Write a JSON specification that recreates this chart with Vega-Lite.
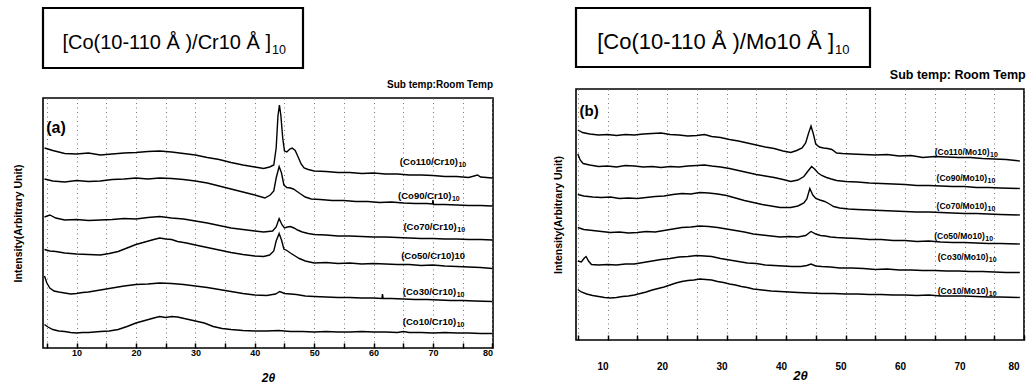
{
  "$schema": "https://vega.github.io/schema/vega-lite/v6.json",
  "background": "white",
  "padding": {"left": 12, "top": 6, "right": 2, "bottom": 2},
  "config": {
    "font": "Liberation Sans",
    "view": {"stroke": "black", "strokeWidth": 1.6},
    "axis": {"labelFont": "Liberation Sans", "titleFont": "Liberation Sans", "labelColor": "black", "titleColor": "black"},
    "title": {"font": "Liberation Sans", "color": "black"},
    "text": {"font": "Liberation Sans", "color": "black"}
  },
  "bounds": "full",
  "spacing": 58,
  "hconcat": [
    {
      "bounds": "flush",
      "spacing": 30,
      "vconcat": [
        {
          "width": 260,
          "height": 60,
          "view": {"stroke": "black", "strokeWidth": 2.2},
          "data": {"values": [{"main": "[Co(10-110 Å )/Cr10 Å ]", "sub": "10"}]},
          "layer": [
            {"mark": {"type": "text", "fontSize": 20, "align": "right", "dx": 98, "dy": 5}, "encoding": {"text": {"field": "main"}}},
            {"mark": {"type": "text", "fontSize": 12.5, "align": "left", "dx": 99, "dy": 12}, "encoding": {"text": {"field": "sub"}}}
          ]
        },
        {
          "width": 450,
          "height": 250,
          "title": {"text": "Sub temp:Room Temp", "anchor": "end", "fontSize": 10, "fontWeight": "bold", "offset": 8},
          "resolve": {"axis": {"x": "independent", "y": "independent"}},
          "layer": [
            {
              "data": {"values": [
{"s":"Co110","x":4.6,"y":200},{"s":"Co110","x":6,"y":197.5},{"s":"Co110","x":8,"y":194.5},{"s":"Co110","x":10,"y":194},{"s":"Co110","x":12,"y":195},{"s":"Co110","x":14,"y":193},{"s":"Co110","x":16,"y":194},{"s":"Co110","x":18,"y":195},{"s":"Co110","x":20,"y":195.5},{"s":"Co110","x":22,"y":196.5},{"s":"Co110","x":24,"y":197},{"s":"Co110","x":26,"y":196},{"s":"Co110","x":28,"y":194.5},{"s":"Co110","x":30,"y":193},{"s":"Co110","x":32,"y":190.5},{"s":"Co110","x":34,"y":188.5},{"s":"Co110","x":36,"y":185.5},{"s":"Co110","x":38,"y":183},{"s":"Co110","x":40,"y":181},{"s":"Co110","x":41.5,"y":179.5},{"s":"Co110","x":42.5,"y":181},{"s":"Co110","x":43.2,"y":183},{"s":"Co110","x":43.6,"y":200},{"s":"Co110","x":43.9,"y":232},{"s":"Co110","x":44.15,"y":243},{"s":"Co110","x":44.4,"y":232},{"s":"Co110","x":44.7,"y":210},{"s":"Co110","x":45,"y":197},{"s":"Co110","x":45.4,"y":196},{"s":"Co110","x":45.9,"y":199},{"s":"Co110","x":46.3,"y":200},{"s":"Co110","x":46.8,"y":197.5},{"s":"Co110","x":47.3,"y":191},{"s":"Co110","x":47.8,"y":184},{"s":"Co110","x":48.3,"y":180},{"s":"Co110","x":49,"y":178.5},{"s":"Co110","x":50,"y":177},{"s":"Co110","x":52,"y":176.5},{"s":"Co110","x":54,"y":175.5},{"s":"Co110","x":56,"y":175.5},{"s":"Co110","x":58,"y":174.5},{"s":"Co110","x":60,"y":175},{"s":"Co110","x":62,"y":174},{"s":"Co110","x":64,"y":174},{"s":"Co110","x":66,"y":173},{"s":"Co110","x":68,"y":173},{"s":"Co110","x":70,"y":172.5},{"s":"Co110","x":72,"y":171.5},{"s":"Co110","x":74,"y":171.5},{"s":"Co110","x":76,"y":170.5},{"s":"Co110","x":77.5,"y":173},{"s":"Co110","x":78,"y":171},{"s":"Co110","x":80,"y":170},
{"s":"Co90","x":4.6,"y":169},{"s":"Co90","x":6,"y":167},{"s":"Co90","x":8,"y":166},{"s":"Co90","x":10,"y":167.5},{"s":"Co90","x":12,"y":166.5},{"s":"Co90","x":14,"y":167},{"s":"Co90","x":16,"y":168.5},{"s":"Co90","x":18,"y":169},{"s":"Co90","x":20,"y":170},{"s":"Co90","x":22,"y":169},{"s":"Co90","x":24,"y":170},{"s":"Co90","x":26,"y":169.5},{"s":"Co90","x":28,"y":168.5},{"s":"Co90","x":30,"y":167},{"s":"Co90","x":32,"y":165},{"s":"Co90","x":34,"y":162},{"s":"Co90","x":36,"y":159},{"s":"Co90","x":38,"y":156},{"s":"Co90","x":40,"y":153},{"s":"Co90","x":41.7,"y":150},{"s":"Co90","x":42.6,"y":153},{"s":"Co90","x":43.2,"y":157},{"s":"Co90","x":43.6,"y":170},{"s":"Co90","x":44.1,"y":181.5},{"s":"Co90","x":44.5,"y":175},{"s":"Co90","x":44.9,"y":163},{"s":"Co90","x":45.4,"y":160.5},{"s":"Co90","x":46,"y":160},{"s":"Co90","x":46.5,"y":159},{"s":"Co90","x":47,"y":157},{"s":"Co90","x":47.6,"y":154.5},{"s":"Co90","x":48.5,"y":151},{"s":"Co90","x":49.5,"y":149},{"s":"Co90","x":51,"y":148.5},{"s":"Co90","x":53,"y":147.5},{"s":"Co90","x":55,"y":147.5},{"s":"Co90","x":57,"y":146.5},{"s":"Co90","x":59,"y":146.5},{"s":"Co90","x":61,"y":145.5},{"s":"Co90","x":63,"y":146},{"s":"Co90","x":65,"y":145},{"s":"Co90","x":67,"y":144.5},{"s":"Co90","x":69,"y":144.5},{"s":"Co90","x":69.9,"y":144},{"s":"Co90","x":70,"y":148},{"s":"Co90","x":70.1,"y":143.5},{"s":"Co90","x":72,"y":143.5},{"s":"Co90","x":74,"y":143},{"s":"Co90","x":76,"y":142.5},{"s":"Co90","x":78,"y":142.5},{"s":"Co90","x":80,"y":142},
{"s":"Co70","x":4.6,"y":131},{"s":"Co70","x":5.5,"y":133},{"s":"Co70","x":6.5,"y":130},{"s":"Co70","x":8,"y":128},{"s":"Co70","x":10,"y":128.5},{"s":"Co70","x":12,"y":127.5},{"s":"Co70","x":14,"y":128},{"s":"Co70","x":16,"y":128.5},{"s":"Co70","x":18,"y":129.5},{"s":"Co70","x":20,"y":129},{"s":"Co70","x":22,"y":130.5},{"s":"Co70","x":24,"y":131.5},{"s":"Co70","x":26,"y":130},{"s":"Co70","x":28,"y":129},{"s":"Co70","x":30,"y":127},{"s":"Co70","x":32,"y":125},{"s":"Co70","x":34,"y":122.5},{"s":"Co70","x":36,"y":120},{"s":"Co70","x":38,"y":118.5},{"s":"Co70","x":40,"y":117},{"s":"Co70","x":41.5,"y":116},{"s":"Co70","x":43,"y":117},{"s":"Co70","x":43.6,"y":121},{"s":"Co70","x":44.1,"y":129.5},{"s":"Co70","x":44.6,"y":123},{"s":"Co70","x":45,"y":120},{"s":"Co70","x":45.5,"y":121},{"s":"Co70","x":46,"y":121.5},{"s":"Co70","x":46.6,"y":120},{"s":"Co70","x":47.2,"y":118},{"s":"Co70","x":48,"y":116},{"s":"Co70","x":49,"y":114.5},{"s":"Co70","x":50,"y":113.5},{"s":"Co70","x":52,"y":113},{"s":"Co70","x":54,"y":112},{"s":"Co70","x":56,"y":112},{"s":"Co70","x":58,"y":111.5},{"s":"Co70","x":60,"y":111},{"s":"Co70","x":62,"y":111},{"s":"Co70","x":64,"y":110.5},{"s":"Co70","x":66,"y":110},{"s":"Co70","x":68,"y":109.5},{"s":"Co70","x":70,"y":109.5},{"s":"Co70","x":72,"y":109},{"s":"Co70","x":74,"y":109},{"s":"Co70","x":76,"y":108.5},{"s":"Co70","x":78,"y":108.5},{"s":"Co70","x":80,"y":108},
{"s":"Co50","x":4.6,"y":98.5},{"s":"Co50","x":5.5,"y":97},{"s":"Co50","x":6.5,"y":96.5},{"s":"Co50","x":8,"y":95},{"s":"Co50","x":10,"y":94},{"s":"Co50","x":12,"y":93.5},{"s":"Co50","x":14,"y":93},{"s":"Co50","x":15.5,"y":94.5},{"s":"Co50","x":17,"y":96.5},{"s":"Co50","x":18.5,"y":100},{"s":"Co50","x":20,"y":103.5},{"s":"Co50","x":21.5,"y":106},{"s":"Co50","x":23,"y":108.5},{"s":"Co50","x":24,"y":110},{"s":"Co50","x":25,"y":109},{"s":"Co50","x":26,"y":108.5},{"s":"Co50","x":27,"y":106.5},{"s":"Co50","x":28.5,"y":105},{"s":"Co50","x":30,"y":103},{"s":"Co50","x":32,"y":100.5},{"s":"Co50","x":34,"y":98},{"s":"Co50","x":36,"y":95.5},{"s":"Co50","x":38,"y":93.5},{"s":"Co50","x":40,"y":92},{"s":"Co50","x":41.5,"y":91.5},{"s":"Co50","x":42.5,"y":93},{"s":"Co50","x":43.2,"y":97},{"s":"Co50","x":43.6,"y":107},{"s":"Co50","x":44.1,"y":114.5},{"s":"Co50","x":44.5,"y":108},{"s":"Co50","x":44.9,"y":99},{"s":"Co50","x":45.4,"y":97.5},{"s":"Co50","x":46,"y":95},{"s":"Co50","x":46.8,"y":92},{"s":"Co50","x":47.5,"y":89.5},{"s":"Co50","x":48.5,"y":87},{"s":"Co50","x":50,"y":85},{"s":"Co50","x":52,"y":85.5},{"s":"Co50","x":54,"y":84.5},{"s":"Co50","x":56,"y":85},{"s":"Co50","x":58,"y":84},{"s":"Co50","x":60,"y":84.5},{"s":"Co50","x":62,"y":84},{"s":"Co50","x":64,"y":83.5},{"s":"Co50","x":66,"y":83.5},{"s":"Co50","x":68,"y":82.5},{"s":"Co50","x":70,"y":83},{"s":"Co50","x":72,"y":82},{"s":"Co50","x":74,"y":81.5},{"s":"Co50","x":76,"y":81},{"s":"Co50","x":78,"y":80.5},{"s":"Co50","x":80,"y":79.5},
{"s":"Co30","x":4.6,"y":72},{"s":"Co30","x":5,"y":65},{"s":"Co30","x":5.5,"y":60},{"s":"Co30","x":6.2,"y":57},{"s":"Co30","x":7,"y":56},{"s":"Co30","x":8,"y":55},{"s":"Co30","x":9,"y":54},{"s":"Co30","x":10,"y":54.5},{"s":"Co30","x":11,"y":55.5},{"s":"Co30","x":12,"y":56},{"s":"Co30","x":14,"y":58},{"s":"Co30","x":16,"y":60},{"s":"Co30","x":18,"y":62},{"s":"Co30","x":20,"y":63.5},{"s":"Co30","x":22,"y":64},{"s":"Co30","x":24,"y":65},{"s":"Co30","x":26,"y":64.5},{"s":"Co30","x":28,"y":63.5},{"s":"Co30","x":30,"y":62},{"s":"Co30","x":32,"y":60.5},{"s":"Co30","x":34,"y":58.5},{"s":"Co30","x":36,"y":56.5},{"s":"Co30","x":38,"y":54.5},{"s":"Co30","x":40,"y":53},{"s":"Co30","x":42,"y":52.5},{"s":"Co30","x":43.5,"y":54},{"s":"Co30","x":44.2,"y":56.5},{"s":"Co30","x":45,"y":54.5},{"s":"Co30","x":46,"y":54},{"s":"Co30","x":47,"y":53.5},{"s":"Co30","x":48.5,"y":52},{"s":"Co30","x":50,"y":51.5},{"s":"Co30","x":52,"y":51},{"s":"Co30","x":54,"y":50.5},{"s":"Co30","x":56,"y":50.5},{"s":"Co30","x":58,"y":50},{"s":"Co30","x":60,"y":50},{"s":"Co30","x":61.4,"y":49.5},{"s":"Co30","x":61.5,"y":54},{"s":"Co30","x":61.6,"y":49.5},{"s":"Co30","x":63,"y":49.5},{"s":"Co30","x":65,"y":49},{"s":"Co30","x":67,"y":48.5},{"s":"Co30","x":69,"y":48.5},{"s":"Co30","x":71,"y":48},{"s":"Co30","x":73,"y":47.5},{"s":"Co30","x":75,"y":47.5},{"s":"Co30","x":77,"y":47},{"s":"Co30","x":80,"y":46.5},
{"s":"Co10","x":4.6,"y":23.5},{"s":"Co10","x":5.2,"y":21},{"s":"Co10","x":6,"y":18.5},{"s":"Co10","x":7,"y":17},{"s":"Co10","x":8,"y":16.5},{"s":"Co10","x":9,"y":15.5},{"s":"Co10","x":10,"y":15},{"s":"Co10","x":11,"y":15.5},{"s":"Co10","x":12,"y":15.5},{"s":"Co10","x":13,"y":16},{"s":"Co10","x":14,"y":16.5},{"s":"Co10","x":15.5,"y":17},{"s":"Co10","x":17,"y":18.5},{"s":"Co10","x":18.5,"y":21.5},{"s":"Co10","x":20,"y":25},{"s":"Co10","x":21.5,"y":27.5},{"s":"Co10","x":23,"y":30},{"s":"Co10","x":24,"y":31.5},{"s":"Co10","x":25,"y":30.5},{"s":"Co10","x":26,"y":31.5},{"s":"Co10","x":27,"y":31},{"s":"Co10","x":28.5,"y":29},{"s":"Co10","x":30,"y":27},{"s":"Co10","x":31.5,"y":25},{"s":"Co10","x":33,"y":21.5},{"s":"Co10","x":34.5,"y":19.5},{"s":"Co10","x":36,"y":18.5},{"s":"Co10","x":38,"y":17.5},{"s":"Co10","x":40,"y":17},{"s":"Co10","x":42,"y":17},{"s":"Co10","x":44,"y":17.5},{"s":"Co10","x":46,"y":16.5},{"s":"Co10","x":48,"y":16.5},{"s":"Co10","x":50,"y":16},{"s":"Co10","x":52,"y":16.5},{"s":"Co10","x":54,"y":16},{"s":"Co10","x":56,"y":16},{"s":"Co10","x":58,"y":16.5},{"s":"Co10","x":60,"y":16},{"s":"Co10","x":62,"y":16},{"s":"Co10","x":64,"y":15.5},{"s":"Co10","x":65,"y":16.5},{"s":"Co10","x":66,"y":15.5},{"s":"Co10","x":68,"y":15.5},{"s":"Co10","x":70,"y":15},{"s":"Co10","x":72,"y":15.5},{"s":"Co10","x":74,"y":15},{"s":"Co10","x":76,"y":15},{"s":"Co10","x":78,"y":14.5},{"s":"Co10","x":80,"y":14.5}
              ]},
              "mark": {"type": "line", "color": "black", "strokeWidth": 1.4, "clip": true},
              "encoding": {
                "x": {"field": "x", "type": "quantitative", "scale": {"domain": [4.35, 80.1], "nice": false, "zero": false},
                  "axis": {"orient": "bottom", "values": [5,10,15,20,25,30,35,40,45,50,55,60,65,70,75,80], "labelExpr": "datum.value % 10 === 0 ? datum.label : ''", "tickSize": -5, "tickColor": "black", "tickWidth": 1.5, "domain": false, "grid": true, "gridDash": [1, 3.5], "gridColor": "#777777", "gridWidth": 1, "labelFontSize": 9, "labelFontWeight": "bold", "labelPadding": 5, "title": "2θ", "titleFontSize": 12, "titleFontWeight": "bold", "titleFontStyle": "italic", "titlePadding": 15}},
                "y": {"field": "y", "type": "quantitative", "scale": {"domain": [0, 250], "nice": false, "zero": false},
                  "axis": {"orient": "left", "labels": false, "ticks": false, "domain": false, "grid": false, "title": "Intensity(Arbitrary Unit)", "titleFontSize": 10.5, "titleFontWeight": "bold", "titlePadding": 20}},
                "detail": {"field": "s"}
              }
            },
            {
              "data": {"values": [
                {"label": "(Co110/Cr10)", "sub": "10", "x": 74.2, "y": 186},
                {"label": "(Co90/Cr10)", "sub": "10", "x": 73.1, "y": 152},
                {"label": "(Co70/Cr10)", "sub": "10", "x": 74.0, "y": 121},
                {"label": "(Co50/Cr10)10", "sub": "", "x": 75.4, "y": 92},
                {"label": "(Co30/Cr10)", "sub": "10", "x": 73.9, "y": 56},
                {"label": "(Co10/Cr10)", "sub": "10", "x": 73.9, "y": 26}
              ]},
              "layer": [
                {
                  "mark": {"type": "text", "align": "right", "baseline": "middle", "fontSize": 9.5, "fontWeight": "bold"},
                  "encoding": {
                    "x": {"field": "x", "type": "quantitative", "axis": {"orient": "top", "values": [5,10,15,20,25,30,35,40,45,50,55,60,65,70,75,80], "labels": false, "tickSize": -4, "tickColor": "black", "tickWidth": 1.3, "domain": false, "grid": false, "title": null}},
                    "y": {"field": "y", "type": "quantitative", "axis": null},
                    "text": {"field": "label"}
                  }
                },
                {
                  "mark": {"type": "text", "align": "left", "baseline": "middle", "fontSize": 7, "fontWeight": "bold", "dx": 0.5, "dy": 3},
                  "encoding": {
                    "x": {"field": "x", "type": "quantitative", "axis": null},
                    "y": {"field": "y", "type": "quantitative", "axis": null},
                    "text": {"field": "sub"}
                  }
                }
              ]
            },
            {
              "data": {"values": [{"label": "(a)", "x": 4.9, "y": 220}]},
              "mark": {"type": "text", "align": "left", "baseline": "middle", "fontSize": 16, "fontWeight": "bold"},
              "encoding": {
                "x": {"field": "x", "type": "quantitative", "axis": null},
                "y": {"field": "y", "type": "quantitative", "axis": null},
                "text": {"field": "label"}
              }
            }
          ]
        }
      ]
    },
    {
      "bounds": "flush",
      "spacing": 22,
      "vconcat": [
        {
          "width": 294,
          "height": 59,
          "view": {"stroke": "black", "strokeWidth": 2.2},
          "data": {"values": [{"main": "[Co(10-110 Å )/Mo10 Å ]", "sub": "10"}]},
          "layer": [
            {"mark": {"type": "text", "fontSize": 22, "align": "right", "dx": 111, "dy": 4}, "encoding": {"text": {"field": "main"}}},
            {"mark": {"type": "text", "fontSize": 13, "align": "left", "dx": 112, "dy": 12}, "encoding": {"text": {"field": "sub"}}}
          ]
        },
        {
          "width": 448,
          "height": 251,
          "title": {"text": "Sub temp: Room Temp", "anchor": "end", "fontSize": 12.5, "fontWeight": "bold", "offset": 8, "dx": 1},
          "resolve": {"axis": {"x": "independent", "y": "independent"}},
          "layer": [
            {
              "data": {"values": [
{"s":"Co110","x":5,"y":210},{"s":"Co110","x":5.8,"y":207.5},{"s":"Co110","x":7,"y":206},{"s":"Co110","x":8.5,"y":205},{"s":"Co110","x":10,"y":205.5},{"s":"Co110","x":11.5,"y":204.5},{"s":"Co110","x":13,"y":205.5},{"s":"Co110","x":14.5,"y":205},{"s":"Co110","x":16,"y":206},{"s":"Co110","x":17.5,"y":206.5},{"s":"Co110","x":19,"y":207},{"s":"Co110","x":20.5,"y":205.5},{"s":"Co110","x":22,"y":205},{"s":"Co110","x":23.5,"y":204},{"s":"Co110","x":25,"y":204.5},{"s":"Co110","x":26.3,"y":205.5},{"s":"Co110","x":27.5,"y":203.5},{"s":"Co110","x":29,"y":202.5},{"s":"Co110","x":30.5,"y":200.5},{"s":"Co110","x":32,"y":199},{"s":"Co110","x":33.5,"y":197},{"s":"Co110","x":35,"y":195},{"s":"Co110","x":36.5,"y":193},{"s":"Co110","x":38,"y":191.5},{"s":"Co110","x":39.5,"y":189},{"s":"Co110","x":40.8,"y":187.5},{"s":"Co110","x":41.8,"y":189.5},{"s":"Co110","x":42.7,"y":192},{"s":"Co110","x":43.3,"y":197},{"s":"Co110","x":43.8,"y":207},{"s":"Co110","x":44.2,"y":214},{"s":"Co110","x":44.6,"y":206},{"s":"Co110","x":45,"y":196},{"s":"Co110","x":45.6,"y":193},{"s":"Co110","x":46.3,"y":192},{"s":"Co110","x":47,"y":191.5},{"s":"Co110","x":47.7,"y":190.5},{"s":"Co110","x":48.5,"y":187},{"s":"Co110","x":49.5,"y":186.5},{"s":"Co110","x":51,"y":186},{"s":"Co110","x":53,"y":185.5},{"s":"Co110","x":55,"y":185},{"s":"Co110","x":57,"y":185.5},{"s":"Co110","x":59,"y":184},{"s":"Co110","x":61,"y":184.5},{"s":"Co110","x":63,"y":182.5},{"s":"Co110","x":65,"y":183.5},{"s":"Co110","x":67,"y":183},{"s":"Co110","x":69,"y":182.5},{"s":"Co110","x":71,"y":182.5},{"s":"Co110","x":73,"y":181.5},{"s":"Co110","x":75,"y":181},{"s":"Co110","x":77,"y":180.5},{"s":"Co110","x":79.3,"y":179},
{"s":"Co90","x":5,"y":186},{"s":"Co90","x":5.4,"y":180},{"s":"Co90","x":5.9,"y":176.5},{"s":"Co90","x":7,"y":175},{"s":"Co90","x":8.5,"y":173.5},{"s":"Co90","x":10,"y":174},{"s":"Co90","x":11.5,"y":173},{"s":"Co90","x":13,"y":174.5},{"s":"Co90","x":14.5,"y":174},{"s":"Co90","x":16,"y":173},{"s":"Co90","x":17.5,"y":173.5},{"s":"Co90","x":19,"y":172.5},{"s":"Co90","x":20.5,"y":173.5},{"s":"Co90","x":22,"y":173},{"s":"Co90","x":23.5,"y":174},{"s":"Co90","x":25,"y":174.5},{"s":"Co90","x":26.3,"y":175},{"s":"Co90","x":27.5,"y":174},{"s":"Co90","x":29,"y":173},{"s":"Co90","x":30.5,"y":171.5},{"s":"Co90","x":32,"y":169.5},{"s":"Co90","x":33.5,"y":167.5},{"s":"Co90","x":35,"y":165.5},{"s":"Co90","x":36.5,"y":164},{"s":"Co90","x":38,"y":162.5},{"s":"Co90","x":39.5,"y":160.5},{"s":"Co90","x":40.8,"y":158.5},{"s":"Co90","x":42,"y":160},{"s":"Co90","x":43,"y":163.5},{"s":"Co90","x":43.7,"y":169},{"s":"Co90","x":44.3,"y":173.5},{"s":"Co90","x":44.8,"y":171},{"s":"Co90","x":45.4,"y":167},{"s":"Co90","x":46,"y":164.5},{"s":"Co90","x":46.8,"y":162.5},{"s":"Co90","x":47.6,"y":161},{"s":"Co90","x":48.5,"y":159.5},{"s":"Co90","x":50,"y":158.5},{"s":"Co90","x":52,"y":158},{"s":"Co90","x":54,"y":157},{"s":"Co90","x":56,"y":156.5},{"s":"Co90","x":58,"y":156},{"s":"Co90","x":60,"y":155.5},{"s":"Co90","x":62,"y":154.5},{"s":"Co90","x":64,"y":154.5},{"s":"Co90","x":66,"y":154},{"s":"Co90","x":68,"y":153.5},{"s":"Co90","x":70,"y":153.5},{"s":"Co90","x":72,"y":152.5},{"s":"Co90","x":74,"y":152.5},{"s":"Co90","x":76,"y":152},{"s":"Co90","x":79.3,"y":151.5},
{"s":"Co70","x":5,"y":145.5},{"s":"Co70","x":6,"y":144},{"s":"Co70","x":7.5,"y":143},{"s":"Co70","x":9,"y":142.5},{"s":"Co70","x":10.5,"y":143},{"s":"Co70","x":12,"y":141.5},{"s":"Co70","x":13.5,"y":142},{"s":"Co70","x":15,"y":141.5},{"s":"Co70","x":16.5,"y":142.5},{"s":"Co70","x":18,"y":143.5},{"s":"Co70","x":19.5,"y":144},{"s":"Co70","x":21,"y":145.5},{"s":"Co70","x":22.5,"y":146.5},{"s":"Co70","x":24,"y":146},{"s":"Co70","x":25.5,"y":147.5},{"s":"Co70","x":27,"y":147},{"s":"Co70","x":28.5,"y":146},{"s":"Co70","x":30,"y":144.5},{"s":"Co70","x":31.5,"y":142},{"s":"Co70","x":33,"y":139.5},{"s":"Co70","x":34.5,"y":137.5},{"s":"Co70","x":36,"y":135.5},{"s":"Co70","x":37.5,"y":134},{"s":"Co70","x":39,"y":132.5},{"s":"Co70","x":40.8,"y":132.5},{"s":"Co70","x":42,"y":134},{"s":"Co70","x":43,"y":137},{"s":"Co70","x":43.5,"y":141},{"s":"Co70","x":44,"y":151.5},{"s":"Co70","x":44.5,"y":145},{"s":"Co70","x":45,"y":141.5},{"s":"Co70","x":45.7,"y":140},{"s":"Co70","x":46.5,"y":138.5},{"s":"Co70","x":47.3,"y":136},{"s":"Co70","x":48,"y":133.5},{"s":"Co70","x":49,"y":132},{"s":"Co70","x":50.5,"y":131},{"s":"Co70","x":52,"y":130.5},{"s":"Co70","x":54,"y":130},{"s":"Co70","x":56,"y":129.5},{"s":"Co70","x":58,"y":129},{"s":"Co70","x":60,"y":128.5},{"s":"Co70","x":62,"y":128},{"s":"Co70","x":64,"y":128},{"s":"Co70","x":66,"y":127.5},{"s":"Co70","x":68,"y":127},{"s":"Co70","x":70,"y":126.5},{"s":"Co70","x":72,"y":126.5},{"s":"Co70","x":74,"y":126},{"s":"Co70","x":76,"y":125.5},{"s":"Co70","x":79.3,"y":125},
{"s":"Co50","x":5,"y":112.5},{"s":"Co50","x":6,"y":110.5},{"s":"Co50","x":7.5,"y":109.5},{"s":"Co50","x":9,"y":108.5},{"s":"Co50","x":10.5,"y":107.5},{"s":"Co50","x":12,"y":108},{"s":"Co50","x":13.5,"y":107},{"s":"Co50","x":15,"y":107.5},{"s":"Co50","x":16.5,"y":108.5},{"s":"Co50","x":18,"y":108},{"s":"Co50","x":19.5,"y":109.5},{"s":"Co50","x":21,"y":111},{"s":"Co50","x":22.5,"y":112.5},{"s":"Co50","x":24,"y":113},{"s":"Co50","x":25.5,"y":114},{"s":"Co50","x":27,"y":113.5},{"s":"Co50","x":28.5,"y":112.5},{"s":"Co50","x":30,"y":111},{"s":"Co50","x":31.5,"y":109.5},{"s":"Co50","x":33,"y":108},{"s":"Co50","x":34.5,"y":106},{"s":"Co50","x":36,"y":105},{"s":"Co50","x":37.5,"y":104},{"s":"Co50","x":39,"y":103},{"s":"Co50","x":40.5,"y":103.5},{"s":"Co50","x":42,"y":103},{"s":"Co50","x":43.3,"y":104.5},{"s":"Co50","x":44.2,"y":108.5},{"s":"Co50","x":45,"y":106},{"s":"Co50","x":45.8,"y":104.5},{"s":"Co50","x":46.6,"y":104},{"s":"Co50","x":47.5,"y":103},{"s":"Co50","x":48.5,"y":102.5},{"s":"Co50","x":50,"y":102},{"s":"Co50","x":52,"y":101.5},{"s":"Co50","x":54,"y":100.5},{"s":"Co50","x":56,"y":100.5},{"s":"Co50","x":58,"y":99.5},{"s":"Co50","x":60,"y":99.5},{"s":"Co50","x":62,"y":98.5},{"s":"Co50","x":64,"y":99},{"s":"Co50","x":66,"y":98},{"s":"Co50","x":68,"y":97.5},{"s":"Co50","x":70,"y":97.5},{"s":"Co50","x":72,"y":97},{"s":"Co50","x":74,"y":96.5},{"s":"Co50","x":76,"y":96.5},{"s":"Co50","x":79.3,"y":96},
{"s":"Co30","x":5,"y":79},{"s":"Co30","x":5.6,"y":78},{"s":"Co30","x":6.1,"y":82},{"s":"Co30","x":6.4,"y":83.5},{"s":"Co30","x":6.8,"y":79},{"s":"Co30","x":7.3,"y":75.5},{"s":"Co30","x":8.5,"y":75},{"s":"Co30","x":10,"y":75.5},{"s":"Co30","x":11.5,"y":75},{"s":"Co30","x":13,"y":76},{"s":"Co30","x":14.5,"y":76},{"s":"Co30","x":16,"y":77.5},{"s":"Co30","x":17.5,"y":79},{"s":"Co30","x":19,"y":80.5},{"s":"Co30","x":20.5,"y":81.5},{"s":"Co30","x":22,"y":83},{"s":"Co30","x":23.5,"y":83.5},{"s":"Co30","x":25,"y":84.5},{"s":"Co30","x":26.3,"y":84},{"s":"Co30","x":27.5,"y":83.5},{"s":"Co30","x":29,"y":81.5},{"s":"Co30","x":30.5,"y":80},{"s":"Co30","x":32,"y":78.5},{"s":"Co30","x":33.5,"y":77},{"s":"Co30","x":35,"y":76.5},{"s":"Co30","x":36.5,"y":75},{"s":"Co30","x":38,"y":74.5},{"s":"Co30","x":39.5,"y":74},{"s":"Co30","x":41,"y":73.5},{"s":"Co30","x":42.5,"y":73.5},{"s":"Co30","x":43.5,"y":74.5},{"s":"Co30","x":44.2,"y":76},{"s":"Co30","x":45,"y":74},{"s":"Co30","x":46,"y":73.5},{"s":"Co30","x":47.5,"y":73},{"s":"Co30","x":49,"y":72},{"s":"Co30","x":51,"y":72},{"s":"Co30","x":53,"y":71.5},{"s":"Co30","x":55,"y":70.5},{"s":"Co30","x":57,"y":71},{"s":"Co30","x":59,"y":70},{"s":"Co30","x":61,"y":70},{"s":"Co30","x":63,"y":69.5},{"s":"Co30","x":65,"y":69.5},{"s":"Co30","x":67,"y":69},{"s":"Co30","x":69,"y":69},{"s":"Co30","x":71,"y":68.5},{"s":"Co30","x":73,"y":68.5},{"s":"Co30","x":75,"y":68},{"s":"Co30","x":77,"y":67.5},{"s":"Co30","x":79.3,"y":67.5},
{"s":"Co10","x":5,"y":50.5},{"s":"Co10","x":5.6,"y":48},{"s":"Co10","x":6.5,"y":46},{"s":"Co10","x":7.5,"y":44.5},{"s":"Co10","x":8.5,"y":43.5},{"s":"Co10","x":9.5,"y":42.5},{"s":"Co10","x":10.5,"y":42},{"s":"Co10","x":11.5,"y":42.5},{"s":"Co10","x":12.5,"y":43.5},{"s":"Co10","x":13.5,"y":44},{"s":"Co10","x":14.5,"y":45},{"s":"Co10","x":15.5,"y":46.5},{"s":"Co10","x":16.5,"y":48},{"s":"Co10","x":17.5,"y":50},{"s":"Co10","x":18.5,"y":51.5},{"s":"Co10","x":19.5,"y":53},{"s":"Co10","x":20.5,"y":55},{"s":"Co10","x":21.5,"y":57},{"s":"Co10","x":22.5,"y":58.5},{"s":"Co10","x":23.5,"y":59.5},{"s":"Co10","x":24.5,"y":60},{"s":"Co10","x":25.5,"y":61},{"s":"Co10","x":26.5,"y":60.5},{"s":"Co10","x":27.5,"y":60},{"s":"Co10","x":28.5,"y":58.5},{"s":"Co10","x":29.5,"y":57.5},{"s":"Co10","x":30.5,"y":56},{"s":"Co10","x":31.5,"y":55},{"s":"Co10","x":32.5,"y":53.5},{"s":"Co10","x":33.5,"y":52.5},{"s":"Co10","x":34.5,"y":51},{"s":"Co10","x":36,"y":50},{"s":"Co10","x":37.5,"y":49},{"s":"Co10","x":39,"y":48.5},{"s":"Co10","x":40.5,"y":48},{"s":"Co10","x":42,"y":47.5},{"s":"Co10","x":44,"y":47},{"s":"Co10","x":46,"y":46.5},{"s":"Co10","x":48,"y":46.5},{"s":"Co10","x":50,"y":46},{"s":"Co10","x":52,"y":46},{"s":"Co10","x":54,"y":45.5},{"s":"Co10","x":56,"y":45.5},{"s":"Co10","x":58,"y":45},{"s":"Co10","x":60,"y":45},{"s":"Co10","x":62,"y":44.5},{"s":"Co10","x":64,"y":45},{"s":"Co10","x":66,"y":44},{"s":"Co10","x":68,"y":44},{"s":"Co10","x":70,"y":44},{"s":"Co10","x":72,"y":43.5},{"s":"Co10","x":74,"y":43},{"s":"Co10","x":76,"y":43},{"s":"Co10","x":79.3,"y":42.5}
              ]},
              "mark": {"type": "line", "color": "black", "strokeWidth": 1.4, "clip": true},
              "encoding": {
                "x": {"field": "x", "type": "quantitative", "scale": {"domain": [4.7, 80], "nice": false, "zero": false},
                  "axis": {"orient": "bottom", "values": [5,10,15,20,25,30,35,40,45,50,55,60,65,70,75,80], "labelExpr": "datum.value % 10 === 0 ? datum.label : ''", "labelOffset": -5, "tickSize": -5, "tickColor": "black", "tickWidth": 1.5, "domain": false, "grid": true, "gridDash": [1, 3.5], "gridColor": "#777777", "gridWidth": 1, "labelFontSize": 10, "labelFontWeight": "bold", "labelPadding": 26, "title": "2θ", "titleFontSize": 13, "titleFontWeight": "bold", "titleFontStyle": "italic", "titlePadding": -2}},
                "y": {"field": "y", "type": "quantitative", "scale": {"domain": [0, 251], "nice": false, "zero": false},
                  "axis": {"orient": "left", "labels": false, "ticks": false, "domain": false, "grid": false, "title": "Intensity(Arbitrary Unit)", "titleFontSize": 10.5, "titleFontWeight": "bold", "titlePadding": 13}},
                "detail": {"field": "s"}
              }
            },
            {
              "data": {"values": [
                {"label": "(Co110/Mo10)", "sub": "10", "x": 74.2, "y": 188},
                {"label": "(Co90/Mo10)", "sub": "10", "x": 73.8, "y": 162},
                {"label": "(Co70/Mo10)", "sub": "10", "x": 73.8, "y": 134},
                {"label": "(Co50/Mo10)", "sub": "10", "x": 73.4, "y": 104},
                {"label": "(Co30/Mo10)", "sub": "10", "x": 74.0, "y": 83},
                {"label": "(Co10/Mo10)", "sub": "10", "x": 74.0, "y": 49}
              ]},
              "layer": [
                {
                  "mark": {"type": "text", "align": "right", "baseline": "middle", "fontSize": 8.5, "fontWeight": "bold"},
                  "encoding": {
                    "x": {"field": "x", "type": "quantitative", "axis": {"orient": "top", "values": [5,10,15,20,25,30,35,40,45,50,55,60,65,70,75], "labels": false, "tickSize": -4, "tickColor": "black", "tickWidth": 1.3, "domain": false, "grid": false, "title": null}},
                    "y": {"field": "y", "type": "quantitative", "axis": null},
                    "text": {"field": "label"}
                  }
                },
                {
                  "mark": {"type": "text", "align": "left", "baseline": "middle", "fontSize": 7, "fontWeight": "bold", "dx": 0.5, "dy": 3},
                  "encoding": {
                    "x": {"field": "x", "type": "quantitative", "axis": null},
                    "y": {"field": "y", "type": "quantitative", "axis": null},
                    "text": {"field": "sub"}
                  }
                }
              ]
            },
            {
              "data": {"values": [{"label": "(b)", "x": 5.3, "y": 229}]},
              "mark": {"type": "text", "align": "left", "baseline": "middle", "fontSize": 15, "fontWeight": "bold"},
              "encoding": {
                "x": {"field": "x", "type": "quantitative", "axis": null},
                "y": {"field": "y", "type": "quantitative", "axis": null},
                "text": {"field": "label"}
              }
            }
          ]
        }
      ]
    }
  ]
}
